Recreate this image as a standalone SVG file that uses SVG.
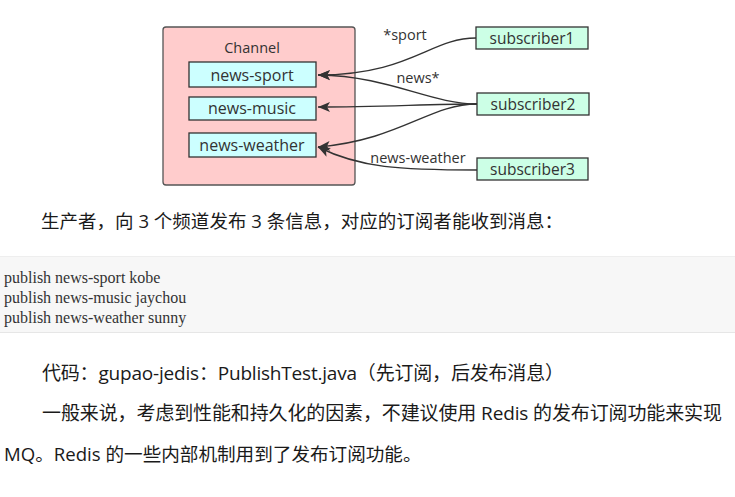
<svg xmlns="http://www.w3.org/2000/svg" width="735" height="497" viewBox="0 0 735 497">
<style>
.dg{font-family:"Open Sans","Noto Sans",sans-serif;fill:#333;text-anchor:middle}
.ch{fill:#ccffff;stroke:#333;stroke-width:1.3}
.sb{fill:#ccffe6;stroke:#333;stroke-width:1.3}
.cn{fill:none;stroke:#333;stroke-width:1.4}
.body{font-family:"Open Sans","Noto Sans CJK SC",sans-serif;fill:#1a1a1a}
.code{font-family:"Liberation Serif",serif;font-size:16px;fill:#333}
</style>
<defs>
<marker id="ah" markerUnits="userSpaceOnUse" markerWidth="13" markerHeight="11" refX="12" refY="5.5" orient="auto">
<path d="M0,0.5 L12,5.5 L0,10.5 L3,5.5 Z" fill="#333"/>
</marker>
</defs>
<rect width="735" height="497" fill="#fff"/>
<g id="channel">
<rect x="163" y="27" width="192" height="158" rx="3" fill="#ffcccc" stroke="#555" stroke-width="1.3"/>
<text class="dg" x="252" y="53" font-size="14.5">Channel</text>
</g>
<g id="news-sport">
<rect class="ch" x="189" y="62" width="127" height="25"/>
<text class="dg" x="252" y="81" font-size="16">news-sport</text>
</g>
<g id="news-music">
<rect class="ch" x="189" y="97" width="127" height="23"/>
<text class="dg" x="252" y="114" font-size="16">news-music</text>
</g>
<g id="news-weather">
<rect class="ch" x="189" y="133" width="127" height="24"/>
<text class="dg" x="252" y="151" font-size="16">news-weather</text>
</g>
<g id="subscriber1">
<rect class="sb" x="476" y="27" width="112" height="22"/>
<text class="dg" x="532" y="44" font-size="15.5">subscriber1</text>
</g>
<g id="subscriber2">
<rect class="sb" x="477" y="93" width="112" height="22"/>
<text class="dg" x="533" y="110" font-size="15.5">subscriber2</text>
</g>
<g id="subscriber3">
<rect class="sb" x="477" y="158" width="111" height="22"/>
<text class="dg" x="532.5" y="175" font-size="15.5">subscriber3</text>
</g>
<g id="connectors">
<path class="cn" d="M476,38 C430,38 410,75 318,75" marker-end="url(#ah)"/>
<path class="cn" d="M477,104 C430,104 390,76 318,75" marker-end="url(#ah)"/>
<path class="cn" d="M477,104 C430,104 380,107 318,107" marker-end="url(#ah)"/>
<path class="cn" d="M477,104 C430,104 400,140 318,147" marker-end="url(#ah)"/>
<path class="cn" d="M477,170 C400,170 360,168 318,147" marker-end="url(#ah)"/>
<text class="dg" x="405" y="40" font-size="14.5">*sport</text>
<text class="dg" x="418" y="83" font-size="14.5">news*</text>
<text class="dg" x="418" y="163" font-size="14.5">news-weather</text>
</g>
<text class="body" x="41" y="228" font-size="18.5" textLength="522">生产者，向 3 个频道发布 3 条信息，对应的订阅者能收到消息：</text>
<rect x="0" y="256" width="735" height="77" fill="#f7f7f7"/>
<line x1="0" y1="256.5" x2="735" y2="256.5" stroke="#eee"/>
<line x1="0" y1="332.5" x2="735" y2="332.5" stroke="#e6e6e6"/>
<text class="code" x="4" y="283">publish news-sport kobe</text>
<text class="code" x="4" y="303">publish news-music jaychou</text>
<text class="code" x="4" y="323">publish news-weather sunny</text>
<text class="body" x="42" y="380" font-size="19" textLength="522">代码：gupao-jedis：PublishTest.java（先订阅，后发布消息）</text>
<text class="body" x="42" y="420" font-size="19" textLength="680">一般来说，考虑到性能和持久化的因素，不建议使用 Redis 的发布订阅功能来实现</text>
<text class="body" x="4" y="461" font-size="18.6">MQ。Redis 的一些内部机制用到了发布订阅功能。</text>
</svg>
